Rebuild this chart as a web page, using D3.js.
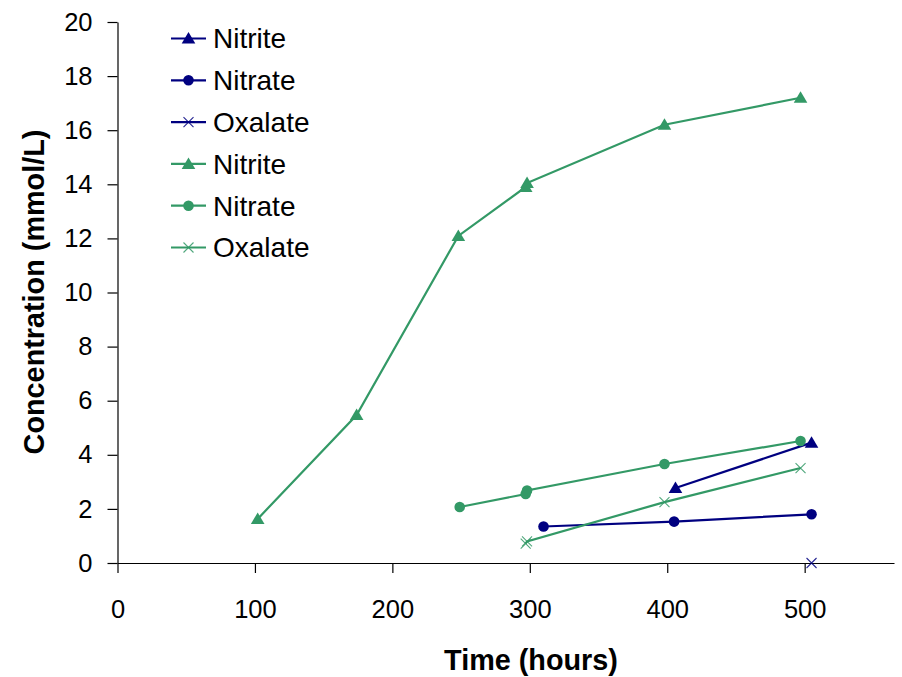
<!DOCTYPE html>
<html>
<head>
<meta charset="utf-8">
<script src="https://cdn.jsdelivr.net/npm/d3@7"></script>
<style>
  html, body { margin: 0; padding: 0; background: #fff; }
  svg { display: block; }
  text { font-family: "Liberation Sans", Arial, sans-serif; fill: #000; }
</style>
</head>
<body>
<svg id="chart" width="902" height="677"></svg>
<script>
// Sampling times (hours) and concentrations (mmol/L) per series
const blueNitriteHours = [406, 505];
const blueNitriteConc  = [2.77, 4.45];
const blueNitrateHours = [310, 405, 505];
const blueNitrateConc  = [1.35, 1.53, 1.80];
const blueOxalateHours = [505];
const blueOxalateConc  = [0];

const greenNitriteHours = [102, 174, 248, 297, 298, 398, 497];
const greenNitriteConc  = [1.63, 5.47, 12.09, 13.9, 14.05, 16.2, 17.2];
const greenNitrateHours = [249, 297, 298, 398, 497];
const greenNitrateConc  = [2.07, 2.55, 2.68, 3.66, 4.51];
const greenOxalateHours = [297, 298, 398, 497];
const greenOxalateConc  = [0.72, 0.80, 2.25, 3.51];

const xTicks = [0, 100, 200, 300, 400, 500];
const yTicks = [0, 2, 4, 6, 8, 10, 12, 14, 16, 18, 20];
const seriesNames = ["Nitrite", "Nitrate", "Oxalate", "Nitrite", "Nitrate", "Oxalate"];

const NAVY = "#000080", GREEN = "#339966";

const series = [
  { name: seriesNames[0], color: NAVY,  marker: "triangle", x: blueNitriteHours,  y: blueNitriteConc },
  { name: seriesNames[1], color: NAVY,  marker: "circle",   x: blueNitrateHours,  y: blueNitrateConc },
  { name: seriesNames[2], color: NAVY,  marker: "cross",    x: blueOxalateHours,  y: blueOxalateConc },
  { name: seriesNames[3], color: GREEN, marker: "triangle", x: greenNitriteHours, y: greenNitriteConc },
  { name: seriesNames[4], color: GREEN, marker: "circle",   x: greenNitrateHours, y: greenNitrateConc },
  { name: seriesNames[5], color: GREEN, marker: "cross",    x: greenOxalateHours, y: greenOxalateConc }
];

const svg = d3.select("#chart");
const plotLeft = 117.5, plotRight = 894, plotTop = 22, plotBottom = 563;

const x = d3.scaleLinear().domain([0, 565]).range([plotLeft, plotRight]);
const y = d3.scaleLinear().domain([0, 20]).range([plotBottom, plotTop]);

// Axes
const yAxis = svg.append("g")
  .attr("transform", `translate(${plotLeft},0)`)
  .call(d3.axisLeft(y).tickValues(yTicks).tickSize(10).tickSizeOuter(0).tickPadding(15));
const xAxis = svg.append("g")
  .attr("transform", `translate(0,${plotBottom})`)
  .call(d3.axisBottom(x).tickValues(xTicks).tickSize(10).tickSizeOuter(0).tickPadding(27));

[yAxis, xAxis].forEach(g => {
  g.selectAll("path.domain").attr("stroke", "#000").attr("stroke-width", 1.2);
  g.selectAll(".tick line").attr("stroke", "#000").attr("stroke-width", 1.2);
  g.selectAll(".tick text")
    .attr("font-family", "'Liberation Sans', Arial, sans-serif")
    .attr("font-size", 25.5)
    .attr("fill", "#000");
});

// Axis titles
svg.append("text")
  .attr("x", 531).attr("y", 670)
  .attr("text-anchor", "middle")
  .attr("font-size", 28.8).attr("font-weight", "bold")
  .text("Time (hours)");
svg.append("text")
  .attr("transform", `translate(44,292) rotate(-90)`)
  .attr("text-anchor", "middle")
  .attr("font-size", 28.8).attr("font-weight", "bold")
  .text("Concentration (mmol/L)");

// Marker drawing
function drawMarker(g, type, color) {
  if (type === "triangle") {
    g.append("path").attr("d", "M0,-6.5L6.8,5L-6.8,5Z").attr("fill", color);
  } else if (type === "circle") {
    g.append("circle").attr("r", 5.3).attr("fill", color);
  } else {
    g.append("path").attr("d", "M-5,-5L5,5M-5,5L5,-5")
      .attr("stroke", color).attr("stroke-width", 1.1).attr("fill", "none")
      .attr("opacity", 0.85);
  }
}

const line = d3.line().x(d => x(d[0])).y(d => y(d[1]));

series.forEach(s => {
  const pts = s.x.map((h, i) => [h, s.y[i]]);
  const g = svg.append("g");
  if (pts.length > 1) {
    g.append("path").datum(pts).attr("d", line)
      .attr("fill", "none").attr("stroke", s.color).attr("stroke-width", 2.2);
  }
  pts.forEach(p => {
    const m = g.append("g").attr("transform", `translate(${x(p[0])},${y(p[1])})`);
    drawMarker(m, s.marker, s.color);
  });
});

// Legend
const legend = svg.append("g");
series.forEach((s, i) => {
  const cy = 38.5 + i * 41.8;
  const row = legend.append("g").attr("transform", `translate(0,${cy})`);
  row.append("line").attr("x1", 171).attr("x2", 206).attr("y1", 0).attr("y2", 0)
    .attr("stroke", s.color).attr("stroke-width", 2.2);
  drawMarker(row.append("g").attr("transform", "translate(188.5,0)"), s.marker, s.color);
  row.append("text").attr("x", 213).attr("y", 0).attr("dy", "0.35em")
    .attr("font-size", 28).text(s.name);
});
</script>
</body>
</html>
